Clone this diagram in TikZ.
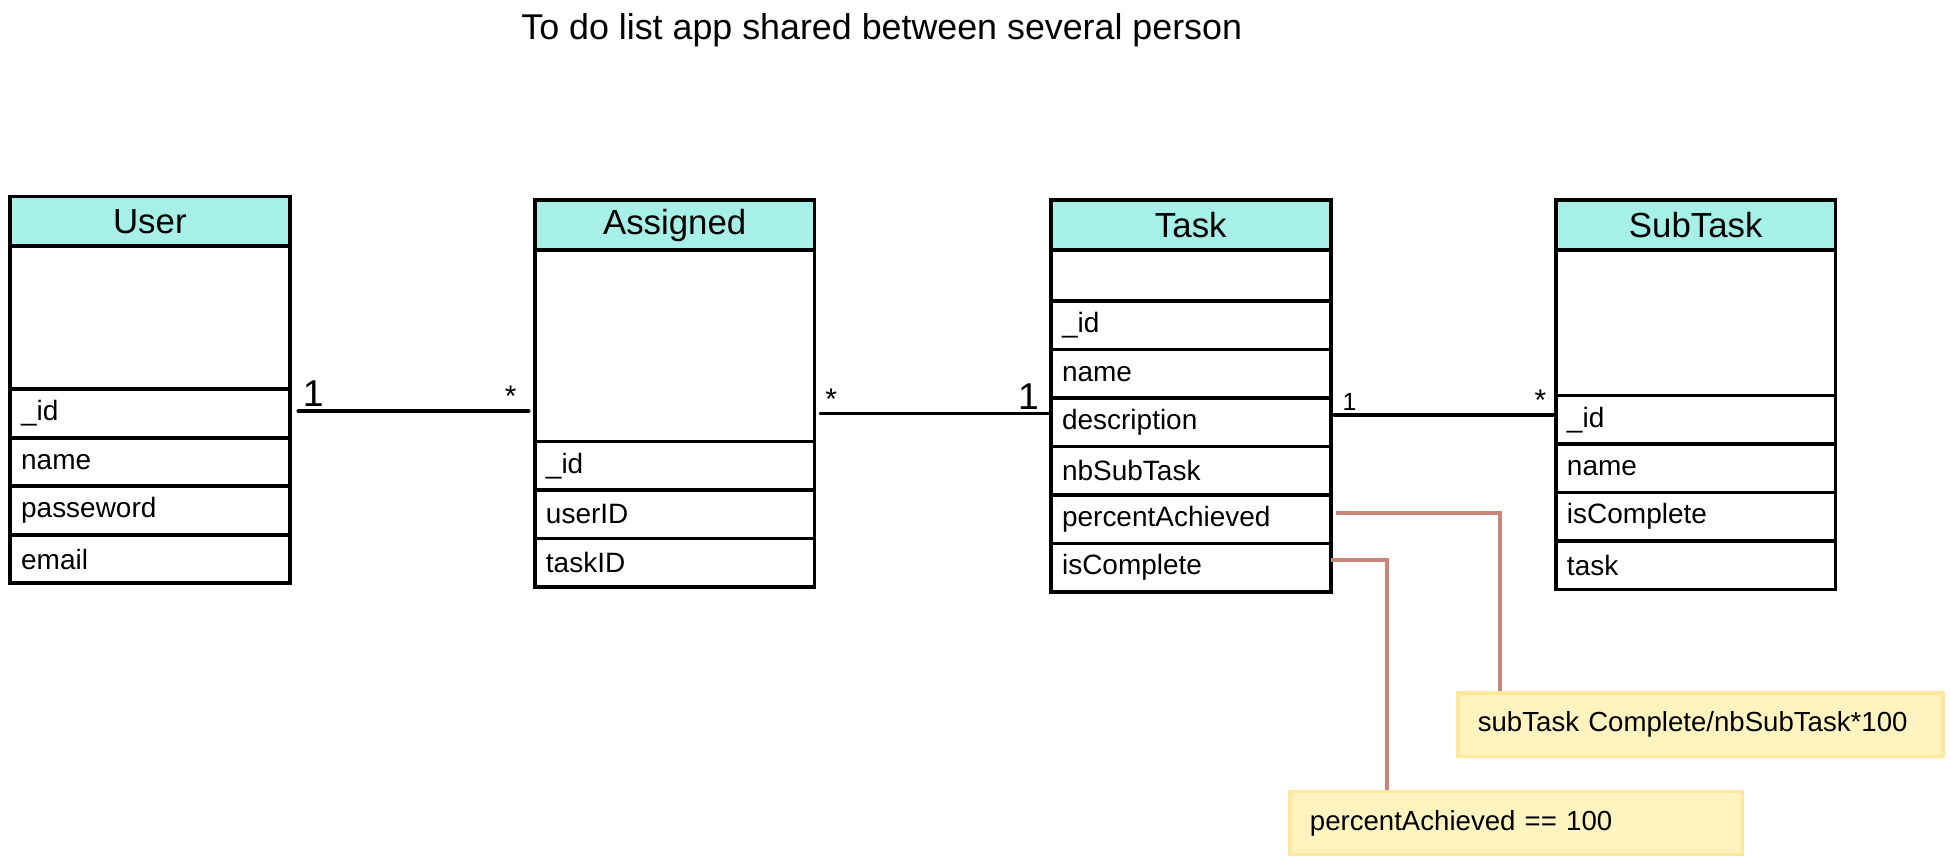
\documentclass[tikz,border=0pt]{standalone}
\usepackage{fontspec}
\setmainfont{Liberation Sans}
\usetikzlibrary{positioning}
\definecolor{headteal}{HTML}{A6F0E8}
\definecolor{notefill}{HTML}{FFF3C0}
\definecolor{noteedge}{HTML}{FFE79E}
\definecolor{linkbrown}{HTML}{C8867A}
\tikzset{
    classhead/.style = {draw, line width = 3pt, fill = headteal, outer sep = 0pt, inner sep = 0pt,
        minimum width = 225pt, minimum height = 40pt, font = \fontsize{28}{32}\selectfont},
    classbody/.style = {draw, line width = 3pt, outer sep = 0pt, inner sep = 0pt, minimum width = 225pt},
    attr/.style = {draw, line width = 3pt, outer sep = 0pt, inner xsep = 9pt, inner ysep = 0pt,
        text width = 207pt, minimum height = 39pt, align = left, font = \fontsize{22.5}{26}\selectfont},
    assoc/.style = {line width = 3.2pt, line cap = round},
    multbig/.style = {inner sep = 2pt, font = \fontsize{30}{34}\selectfont},
    multsmall/.style = {inner sep = 2pt, font = \fontsize{24}{28}\selectfont},
    notebox/.style = {draw = noteedge, fill = notefill, line width = 2.6pt, anchor = north west,
        inner xsep = 16pt, minimum height = 51pt, align = left, font = \fontsize{22.2}{26}\selectfont},
    notelink/.style = {draw = linkbrown, line width = 3pt}
}
\begin{document}
\begin{tikzpicture}[x = 1pt, y = -1pt]
            \useasboundingbox (0,0) rectangle (1568,695);
            \node [font = \fontsize{28.8}{34}\selectfont] (Title) at (709,24) {To do list app shared between several person};

            % Draw the User class:
            \node [classhead, anchor = north west] (User) at (8,158) {User};
            \node [classbody, minimum height = 115pt, below = 0pt of User] (UserBody) {};
            \node [attr, below = 0pt of UserBody] (UserId) {\_id};
            \node [attr, below = 0pt of UserId] (UserName) {name};
            \node [attr, below = 0pt of UserName] (UserPass) {passeword};
            \node [attr, below = 0pt of UserPass] (UserMail) {email};

            % Draw the Assigned class:
            \node [classhead, anchor = north west] (Assigned) at (430,161) {Assigned};
            \node [classbody, minimum height = 154pt, below = 0pt of Assigned] (AssignedBody) {};
            \node [attr, below = 0pt of AssignedBody] (AssignedId) {\_id};
            \node [attr, below = 0pt of AssignedId] (AssignedUser) {userID};
            \node [attr, below = 0pt of AssignedUser] (AssignedTask) {taskID};

            % Draw the Task class:
            \node [classhead, anchor = north west] (Task) at (845,161) {Task};
            \node [classbody, minimum height = 41pt, below = 0pt of Task] (TaskBody) {};
            \node [attr, below = 0pt of TaskBody] (TaskId) {\_id};
            \node [attr, below = 0pt of TaskId] (TaskName) {name};
            \node [attr, below = 0pt of TaskName] (TaskDesc) {description};
            \node [attr, below = 0pt of TaskDesc] (TaskNb) {nbSubTask};
            \node [attr, below = 0pt of TaskNb] (TaskPercent) {percentAchieved};
            \node [attr, below = 0pt of TaskPercent] (TaskComplete) {isComplete};

            % Draw the SubTask class:
            \node [classhead, anchor = north west] (SubTask) at (1251,161) {SubTask};
            \node [classbody, minimum height = 117pt, below = 0pt of SubTask] (SubTaskBody) {};
            \node [attr, below = 0pt of SubTaskBody] (SubTaskId) {\_id};
            \node [attr, below = 0pt of SubTaskId] (SubTaskName) {name};
            \node [attr, below = 0pt of SubTaskName] (SubTaskComplete) {isComplete};
            \node [attr, below = 0pt of SubTaskComplete] (SubTaskTask) {task};

            % Draw the associations:
            \draw [assoc] ([xshift = 7pt, yshift = 2pt]UserId.east) -- ([xshift = -5pt, yshift = 2pt]UserId.east -| AssignedBody.west)
                node [multbig, pos = 0, anchor = south west] (UserOne) {1}
                node [multsmall, pos = 1, anchor = south east, xshift = -6pt] (AssignedMany) {*};
            \draw [assoc] ([xshift = 5pt, yshift = 7pt]TaskDesc.west -| AssignedBody.east) -- ([xshift = -2pt, yshift = 7pt]TaskDesc.west)
                node [multsmall, pos = 0, anchor = south west] (AssignedMany2) {*}
                node [multbig, pos = 1, anchor = south east, xshift = -4pt] (TaskOne) {1};
            \draw [assoc] ([xshift = 3pt, yshift = 6pt]TaskDesc.east) -- ([yshift = 6pt]TaskDesc.east -| SubTaskId.west)
                node [multsmall, pos = 0, anchor = south west, font = \fontsize{20}{24}\selectfont, xshift = 3pt] (TaskOne2) {1}
                node [multsmall, pos = 1, anchor = south east, xshift = -4pt] (SubTaskMany) {*};

            % Draw the notes:
            \node [notebox, text width = 358pt] (NotePercent) at (1171,556) {subTask Complete/nbSubTask*100};
            \node [notebox, text width = 332pt] (NoteComplete) at (1036,635) {percentAchieved == 100};
            \draw [notelink] ([xshift = 4pt, yshift = 5pt]TaskPercent.east) -| ([xshift = 35pt]NotePercent.north west);
            \draw [notelink] ([yshift = 6pt]TaskComplete.east) -| ([xshift = 79pt]NoteComplete.north west);
        \end{tikzpicture}
\end{document}
